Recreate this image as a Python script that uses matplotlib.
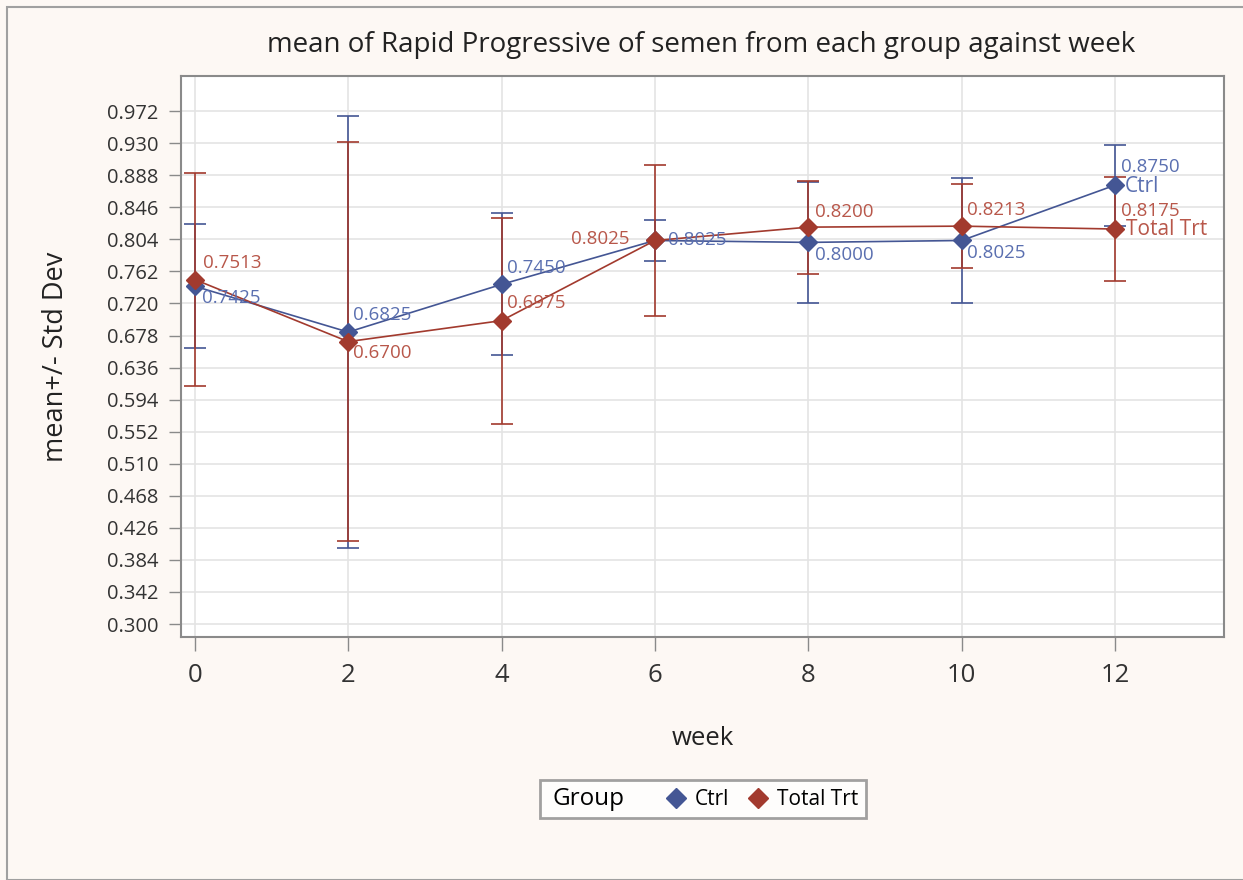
import numpy as np
import matplotlib
matplotlib.use('Agg')
import matplotlib.pyplot as plt
from matplotlib.lines import Line2D
from matplotlib.patches import Rectangle

plt.rcParams['font.family'] = ['Open Sans', 'DejaVu Sans']

# Data
weeks = [0, 2, 4, 6, 8, 10, 12]
ctrl_mean = [0.7425, 0.6825, 0.7450, 0.8025, 0.8000, 0.8025, 0.8750]
ctrl_sd = [0.081, 0.283, 0.093, 0.027, 0.079, 0.082, 0.053]
trt_mean = [0.7513, 0.6700, 0.6975, 0.8025, 0.8200, 0.8213, 0.8175]
trt_sd = [0.139, 0.261, 0.135, 0.099, 0.061, 0.055, 0.068]
ctrl_labels = ['0.7425', '0.6825', '0.7450', '0.8025', '0.8000', '0.8025', '0.8750']
trt_labels = ['0.7513', '0.6700', '0.6975', '0.8025', '0.8200', '0.8213', '0.8175']
yticks = np.round(np.arange(0.300, 0.973, 0.042), 3)

c_ctrl = '#445694'
c_trt = '#A23A2E'
c_ctrl_txt = '#5A6FB0'
c_trt_txt = '#B8574A'

fig = plt.figure(figsize=(12.43, 8.8), dpi=100)
fig.patch.set_facecolor('#FDF8F4')
fig.patches.append(Rectangle((7 / 1243, 0.0), 1.0, 1 - 7 / 880, transform=fig.transFigure,
                             fill=False, edgecolor='#A0A0A0', linewidth=1.5))
ax = fig.add_axes([181 / 1243, 1 - 637 / 880, (1224 - 181) / 1243, (637 - 76) / 880])
ax.set_facecolor('white')

for mean, sd, col in [(ctrl_mean, ctrl_sd, c_ctrl), (trt_mean, trt_sd, c_trt)]:
    ax.errorbar(weeks, mean, yerr=sd, color=col, linewidth=1.2, elinewidth=1.2,
                capsize=8, capthick=1.2, marker='D', markersize=9, zorder=3)

# point labels, offsets in pixels from the marker (text centred vertically)
ctrl_off = [(7, -12), (5, 17), (5, 16), (13, 0), (7, -13), (5, -13), (6, 18)]
trt_off = [(8, 17), (5, -11), (5, 18), (-84, 1), (7, 15), (5, 16), (6, 18)]
for x, y, s, o in zip(weeks, ctrl_mean, ctrl_labels, ctrl_off):
    ax.annotate(s, (x, y), xytext=o, textcoords='offset pixels', color=c_ctrl_txt,
                fontsize=13.5, va='center', ha='left', zorder=4)
for x, y, s, o in zip(weeks, trt_mean, trt_labels, trt_off):
    ax.annotate(s, (x, y), xytext=o, textcoords='offset pixels', color=c_trt_txt,
                fontsize=13.5, va='center', ha='left', zorder=4)
ax.annotate('Ctrl', (weeks[-1], ctrl_mean[-1]), xytext=(10, -1), textcoords='offset pixels',
            color=c_ctrl_txt, fontsize=15, va='center')
ax.annotate('Total Trt', (weeks[-1], trt_mean[-1]), xytext=(11, 0), textcoords='offset pixels',
            color=c_trt_txt, fontsize=15, va='center')

ax.set_xlim(-0.18, 13.42)
ax.set_ylim(0.283, 1.018)
ax.set_xticks(weeks)
ax.set_yticks(yticks)
ax.set_yticklabels([f'{v:.3f}' for v in yticks])
ax.grid(True, color='#E4E4E4', linewidth=1.2)
ax.set_axisbelow(True)
for sp in ax.spines.values():
    sp.set_color('#8A8A8A')
    sp.set_linewidth(1.5)
ax.tick_params(axis='y', labelsize=14.5, colors='#8A8A8A', labelcolor='#333333',
               length=9, width=1, pad=7)
ax.tick_params(axis='x', labelsize=18.5, colors='#8A8A8A', labelcolor='#333333',
               length=10, width=1, pad=9)

ax.set_xlabel('week', fontsize=18.5, color='#222222', labelpad=27)
ax.set_ylabel('mean+/- Std Dev', fontsize=19.5, color='#222222', labelpad=27)
fig.text(701 / 1243, 1 - 45 / 880, 'mean of Rapid Progressive of semen from each group against week',
         ha='center', va='center', fontsize=20, color='#222222')

handles = [Line2D([], [], linestyle='none', marker=None),
           Line2D([], [], linestyle='none', marker='D', color=c_ctrl, markersize=10),
           Line2D([], [], linestyle='none', marker='D', color=c_trt, markersize=10)]
leg = fig.legend(handles, ['Group', 'Ctrl', 'Total Trt'], ncol=3, loc='center',
                 bbox_to_anchor=(703 / 1243, 1 - 799 / 880), frameon=True, fontsize=15,
                 handlelength=0.8, handletextpad=0.5, columnspacing=1.0, fancybox=False,
                 borderpad=0.35)
leg.get_frame().set_edgecolor('#8A8A8A')
leg.get_frame().set_linewidth(2)
leg.get_texts()[0].set_fontsize(17.5)
leg.get_texts()[0].set_position((-22, 0))

fig.savefig('out.png', dpi=100, facecolor=fig.get_facecolor())
